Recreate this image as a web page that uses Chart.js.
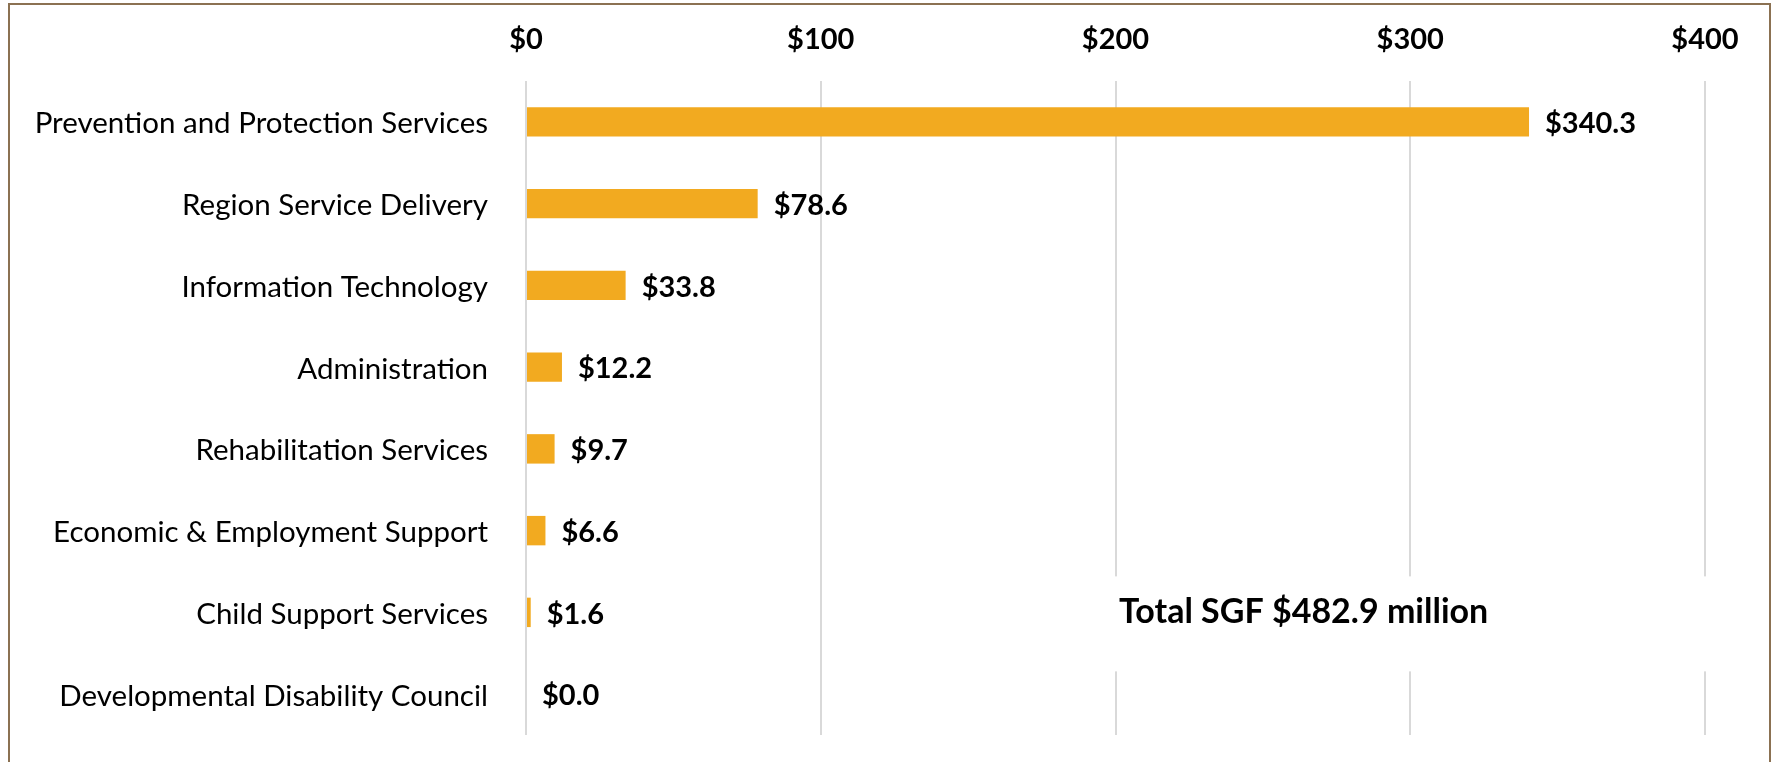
<!DOCTYPE html>
<html>
<head>
<meta charset="utf-8">
<script src="https://cdn.jsdelivr.net/npm/chart.js@4.4.1/dist/chart.umd.min.js"></script>
<style>
    body { margin: 0; background: #fff; }
    #wrap { position: relative; width: 1773px; height: 762px; overflow: hidden; }
    #moldura {
        position: absolute; left: 8px; top: 3px; width: 1759px; height: 900px;
        border: 2px solid #8b7152; pointer-events: none;
    }
</style>
</head>
<body>
<div id="wrap">
    <canvas id="graficoBarras" width="1773" height="762"></canvas>
    <div id="moldura"></div>
</div>
<script>
const categorias = [
    "Prevention and Protection Services",
    "Region Service Delivery",
    "Information Technology",
    "Administration",
    "Rehabilitation Services",
    "Economic & Employment Support",
    "Child Support Services",
    "Developmental Disability Council"
];
const valores = [340.3, 78.6, 33.8, 12.2, 9.7, 6.6, 1.6, 0.0];
const ticksX = [0, 100, 200, 300, 400];
const textoTotal = "Total SGF $482.9 million";

const fonte = "Lato, 'Open Sans', sans-serif";

// rotulos de valor ao lado das barras
const rotulosPlugin = {
    id: 'rotulos',
    afterDatasetsDraw(chart) {
        const ctx = chart.ctx;
        const meta = chart.getDatasetMeta(0);
        ctx.save();
        ctx.font = "bold 29px " + fonte;
        ctx.fillStyle = "#000";
        ctx.textAlign = "left";
        ctx.textBaseline = "middle";
        meta.data.forEach((bar, i) => {
            ctx.fillText("$" + valores[i].toFixed(1), bar.x + 16, bar.y + 2);
        });
        ctx.restore();
    }
};

// caixa com o total, fundo branco por cima das linhas de grade
const totalPlugin = {
    id: 'total',
    afterDatasetsDraw(chart) {
        const ctx = chart.ctx;
        const y = chart.scales.y;
        const cy = y.getPixelForValue(6);
        ctx.save();
        ctx.fillStyle = "#fff";
        ctx.fillRect(1100, cy - 36, 620, 95);
        ctx.font = "bold 34px " + fonte;
        ctx.fillStyle = "#000";
        ctx.textAlign = "left";
        ctx.textBaseline = "middle";
        ctx.fillText(textoTotal, 1119, cy);
        ctx.restore();
    }
};

const ctx = document.getElementById('graficoBarras').getContext('2d');
const grafico = new Chart(ctx, {
    type: 'bar',
    data: {
        labels: categorias,
        datasets: [{
            data: valores,
            backgroundColor: '#f2aa20',
            borderWidth: 0,
            categoryPercentage: 1,
            barPercentage: 0.36
        }]
    },
    options: {
        indexAxis: 'y',
        responsive: false,
        animation: false,
        layout: { padding: { left: 0, right: 68, top: 0, bottom: 27 } },
        plugins: {
            legend: { display: false },
            tooltip: { enabled: false }
        },
        scales: {
            x: {
                position: 'top',
                min: 0,
                max: 400,
                afterBuildTicks: scale => {
                    scale.ticks = ticksX.map(v => ({ value: v }));
                },
                afterFit: scale => { scale.height = 81; },
                grid: { color: '#d9d9d9', lineWidth: 2, drawTicks: false },
                border: { display: false },
                ticks: {
                    color: '#000',
                    padding: 24,
                    font: { family: fonte, size: 29, weight: 'bold' },
                    callback: v => '$' + v
                }
            },
            y: {
                afterFit: scale => {
                    scale.width = 526;
                    scale.paddingTop = 0;
                    scale.paddingBottom = 0;
                },
                grid: { display: false, drawTicks: false },
                border: { display: false },
                ticks: {
                    color: '#000',
                    padding: 38,
                    labelOffset: 2,
                    font: { family: fonte, size: 29.5 }
                }
            }
        }
    },
    plugins: [rotulosPlugin, totalPlugin]
});
</script>
</body>
</html>
